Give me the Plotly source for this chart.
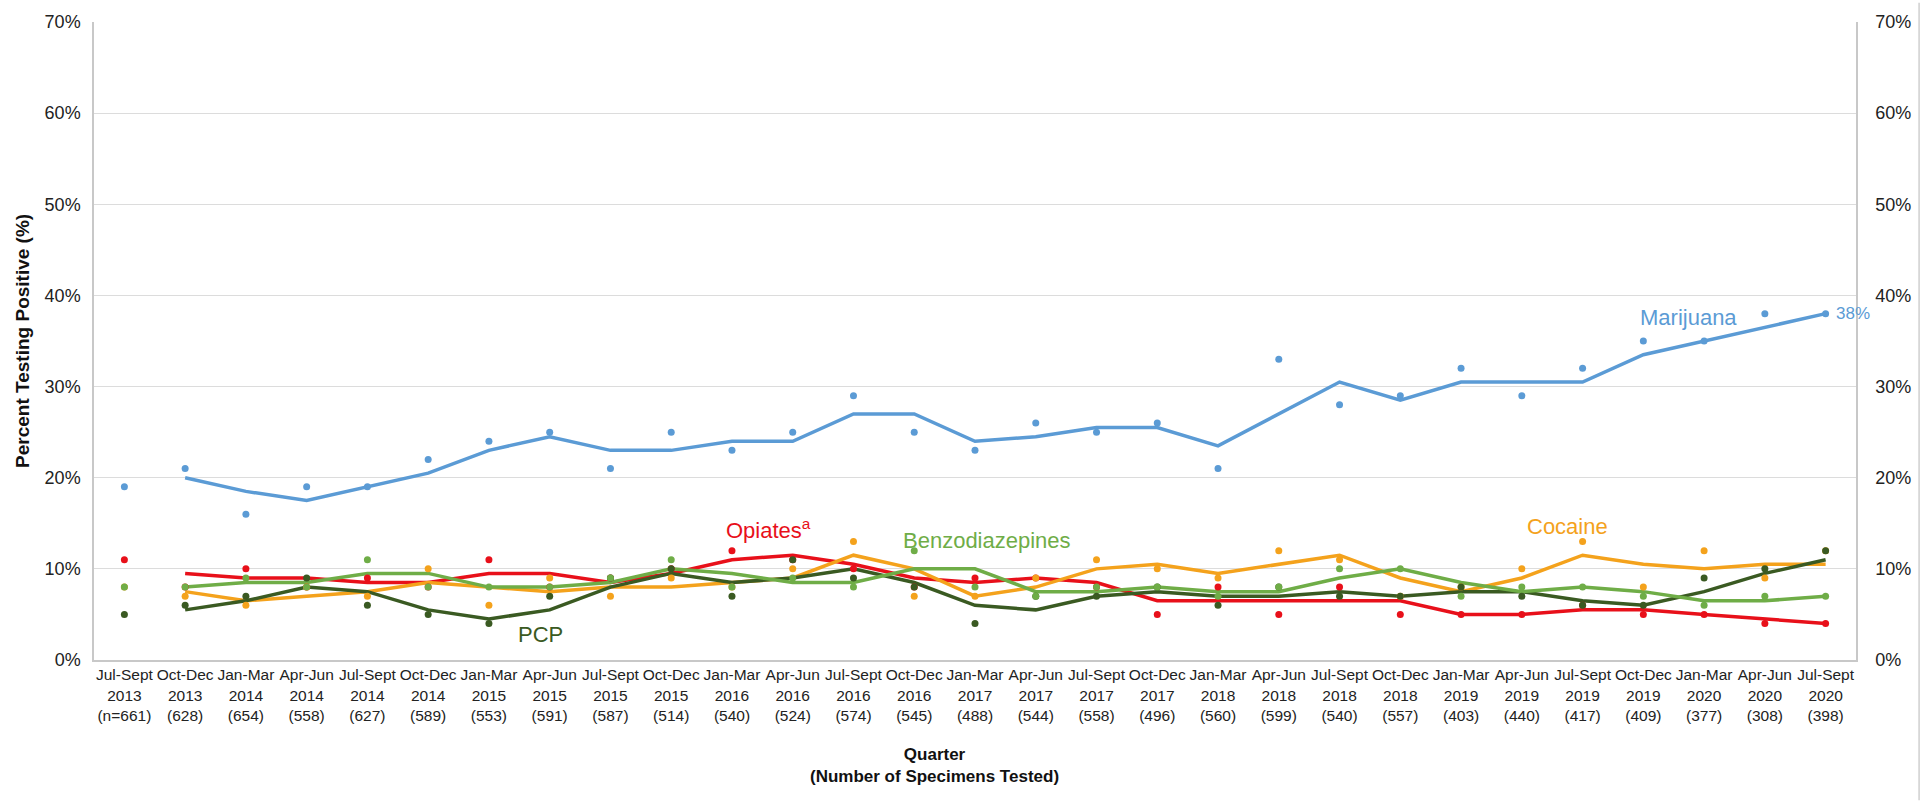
import plotly.graph_objects as go

# ---------------- data ----------------
quarters = ["Jul-Sept", "Oct-Dec", "Jan-Mar", "Apr-Jun", "Jul-Sept", "Oct-Dec", "Jan-Mar", "Apr-Jun",
            "Jul-Sept", "Oct-Dec", "Jan-Mar", "Apr-Jun", "Jul-Sept", "Oct-Dec", "Jan-Mar", "Apr-Jun",
            "Jul-Sept", "Oct-Dec", "Jan-Mar", "Apr-Jun", "Jul-Sept", "Oct-Dec", "Jan-Mar", "Apr-Jun",
            "Jul-Sept", "Oct-Dec", "Jan-Mar", "Apr-Jun", "Jul-Sept"]
years = ["2013", "2013", "2014", "2014", "2014", "2014", "2015", "2015", "2015", "2015", "2016", "2016",
         "2016", "2016", "2017", "2017", "2017", "2017", "2018", "2018", "2018", "2018", "2019", "2019",
         "2019", "2019", "2020", "2020", "2020"]
n_tested = ["n=661", "628", "654", "558", "627", "589", "553", "591", "587", "514", "540", "524", "574",
            "545", "488", "544", "558", "496", "560", "599", "540", "557", "403", "440", "417", "409",
            "377", "308", "398"]

marijuana = [19, 21, 16, 19, 19, 22, 24, 25, 21, 25, 23, 25, 29, 25, 23, 26, 25, 26, 21, 33, 28, 29, 32, 29, 32, 35, 35, 38, 38]
opiates = [11, 8, 10, 8, 9, 8, 11, 8, 9, 10, 12, 11, 10, 8, 9, 9, 8, 5, 8, 5, 8, 5, 5, 5, 6, 5, 5, 4, 4]
benzo = [8, 8, 9, 8, 11, 8, 8, 8, 9, 11, 8, 9, 8, 12, 8, 7, 8, 8, 7, 8, 10, 10, 7, 8, 8, 7, 6, 7, 7]
cocaine = [8, 7, 6, 8, 7, 10, 6, 9, 7, 9, 8, 10, 13, 7, 7, 9, 11, 10, 9, 12, 11, 7, 8, 10, 13, 8, 12, 9, 12]
pcp = [5, 6, 7, 9, 6, 5, 4, 7, 9, 10, 7, 11, 9, 8, 4, 7, 7, 8, 6, 8, 7, 7, 8, 7, 6, 6, 9, 10, 12]

# 2-quarter moving-average trend lines (start at the 2nd quarter)
marijuana_trend = [20, 18.5, 17.5, 19, 20.5, 23, 24.5, 23, 23, 24, 24, 27, 27, 24, 24.5, 25.5, 25.5, 23.5,
                   27, 30.5, 28.5, 30.5, 30.5, 30.5, 33.5, 35, 36.5, 38]
opiates_trend = [9.5, 9, 9, 8.5, 8.5, 9.5, 9.5, 8.5, 9.5, 11, 11.5, 10.5, 9, 8.5, 9, 8.5, 6.5, 6.5, 6.5,
                 6.5, 6.5, 5, 5, 5.5, 5.5, 5, 4.5, 4]
benzo_trend = [8, 8.5, 8.5, 9.5, 9.5, 8, 8, 8.5, 10, 9.5, 8.5, 8.5, 10, 10, 7.5, 7.5, 8, 7.5, 7.5, 9, 10,
               8.5, 7.5, 8, 7.5, 6.5, 6.5, 7]
cocaine_trend = [7.5, 6.5, 7, 7.5, 8.5, 8, 7.5, 8, 8, 8.5, 9, 11.5, 10, 7, 8, 10, 10.5, 9.5, 10.5, 11.5, 9,
                 7.5, 9, 11.5, 10.5, 10, 10.5, 10.5]
pcp_trend = [5.5, 6.5, 8, 7.5, 5.5, 4.5, 5.5, 8, 9.5, 8.5, 9, 10, 8.5, 6, 5.5, 7, 7.5, 7, 7, 7.5, 7, 7.5,
             7.5, 6.5, 6, 7.5, 9.5, 11]

y_ticks = [0, 10, 20, 30, 40, 50, 60, 70]

# ---------------- style ----------------
C_MJ = "#5B9BD5"
C_OP = "#E8101A"
C_BZ = "#6FAD47"
C_CO = "#F4A21C"
C_PCP = "#3A5A22"
FONT = "Liberation Sans, Arial, sans-serif"

x = list(range(len(quarters)))
x_tr = x[1:]
ticktext = [f"{q}<br>{y}<br>({n})" for q, y, n in zip(quarters, years, n_tested)]

fig = go.Figure()

series = [
    ("Opiates", opiates, opiates_trend, C_OP),
    ("Cocaine", cocaine, cocaine_trend, C_CO),
    ("PCP", pcp, pcp_trend, C_PCP),
    ("Benzodiazepines", benzo, benzo_trend, C_BZ),
    ("Marijuana", marijuana, marijuana_trend, C_MJ),
]
for name, vals, trend, col in series:
    fig.add_trace(go.Scatter(x=x_tr, y=trend, mode="lines", line=dict(color=col, width=3.5),
                             name=name + " trend", showlegend=False, hoverinfo="skip"))
for name, vals, trend, col in series:
    fig.add_trace(go.Scatter(x=x, y=vals, mode="markers", marker=dict(color=col, size=7),
                             name=name, showlegend=False))

# invisible trace for the right axis
fig.add_trace(go.Scatter(x=[x[0]], y=[0], yaxis="y2", mode="markers",
                         marker=dict(opacity=0), showlegend=False, hoverinfo="skip"))

fig.update_layout(
    width=1929, height=803,
    margin=dict(l=94, r=73, t=18, b=143),
    paper_bgcolor="white", plot_bgcolor="white",
    font=dict(family=FONT, color="#222222"),
    xaxis=dict(range=[-0.5, len(x) - 0.5], tickmode="array", tickvals=x, ticktext=ticktext,
               tickangle=0, showgrid=False, zeroline=False, showline=True, linecolor="#c8c8c8",
               linewidth=1.5, ticks="", tickfont=dict(size=15.5, family=FONT, color="#222")),
    yaxis=dict(range=[0, 70], tickmode="array", tickvals=y_ticks,
               ticktext=[f"{v}%" for v in y_ticks], showgrid=True, gridcolor="#dcdcdc",
               gridwidth=1.2, zeroline=False, showline=True, linecolor="#c8c8c8", linewidth=1.5,
               ticks="", tickfont=dict(size=18, family=FONT, color="#222"), ticklabelstandoff=8),
    yaxis2=dict(range=[0, 70], tickmode="array", tickvals=y_ticks,
                ticktext=[f"{v}%" for v in y_ticks], overlaying="y", side="right",
                showgrid=False, zeroline=False, showline=True, linecolor="#c8c8c8", linewidth=1.5,
                ticks="", tickfont=dict(size=18, family=FONT, color="#222"), ticklabelstandoff=14),
    showlegend=False,
)

# series labels
labels = [
    ("Marijuana", 25.75, 37.6, C_MJ),
    ("Opiates<sup>a</sup>", 10.6, 14.4, C_OP),
    ("Benzodiazepines", 14.2, 13.1, C_BZ),
    ("Cocaine", 23.75, 14.7, C_CO),
    ("PCP", 6.85, 2.8, C_PCP),
]
for txt, lx, ly, col in labels:
    fig.add_annotation(x=lx, y=ly, text=txt, showarrow=False, font=dict(color=col, size=22, family=FONT),
                       xanchor="center", yanchor="middle")

fig.add_annotation(x=x[-1], y=marijuana[-1], text=f"{marijuana[-1]}%", showarrow=False,
                   xanchor="left", xshift=8, font=dict(color=C_MJ, size=17, family=FONT))

# axis titles
fig.add_annotation(xref="paper", yref="paper", x=0.477, y=-0.166,
                   text="<b>Quarter</b><br><b>(Number of Specimens Tested)</b>", showarrow=False,
                   xanchor="center", yanchor="middle", font=dict(size=17, family=FONT, color="#111"))
fig.add_annotation(xref="paper", yref="paper", x=-0.0409, y=0.5, textangle=-90,
                   text="<b>Percent Testing Positive (%)</b>", showarrow=False,
                   xanchor="center", yanchor="middle", font=dict(size=19, family=FONT, color="#111"))

# outer frame line on the right edge
fig.add_shape(type="line", xref="paper", yref="paper", x0=1.0358, x1=1.0358, y0=-0.22, y1=1.03,
              line=dict(color="#cfcfcf", width=1.5))

fig.write_html("out.html", config={"displayModeBar": False},
               post_script="document.body.style.margin='0';document.body.style.overflow='hidden';")
